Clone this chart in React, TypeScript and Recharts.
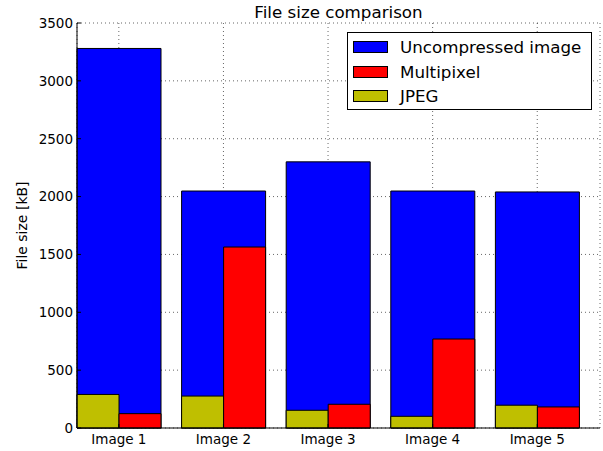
import React from 'react'
import { BarChart, Bar, XAxis, YAxis, CartesianGrid, Legend } from 'recharts'

const categories = ['Image 1', 'Image 2', 'Image 3', 'Image 4', 'Image 5']
const uncompressed = [3280, 2048, 2300, 2048, 2040]
const multipixel = [124, 1564, 205, 769, 182]
const jpeg = [290, 276, 153, 101, 197]
const yTicks = [0, 500, 1000, 1500, 2000, 2500, 3000, 3500]
const legendOrder = ['Uncompressed image', 'Multipixel', 'JPEG']

const data = categories.map((name, i) => ({
  name,
  uncompressed: uncompressed[i],
  multipixel: multipixel[i],
  jpeg: jpeg[i],
}))

const FONT = '"DejaVu Sans", sans-serif'
// bars sit on [i, i + 0.8] of a 0..5 axis, so shift the bands by 0.1 of a band
const BAND_SHIFT = 523 / 5 / 10

const LegendBox = (props: any) => {
  const items = [...(props.payload || [])].sort(
    (a: any, b: any) => legendOrder.indexOf(a.value) - legendOrder.indexOf(b.value)
  )
  return (
    <div
      style={{
        boxSizing: 'border-box',
        width: 245,
        height: 78,
        border: '1px solid #000',
        background: '#fff',
        paddingTop: 2,
        fontFamily: FONT,
        fontSize: 16.7,
        color: '#000',
      }}
    >
      {items.map((it: any) => (
        <div key={it.value} style={{ height: 24.5, display: 'flex', alignItems: 'center' }}>
          <div
            style={{
              boxSizing: 'border-box',
              width: 35,
              height: 12,
              marginLeft: 5,
              marginRight: 12,
              background: it.color,
              border: '1px solid #000',
            }}
          />
          <span>{it.value}</span>
        </div>
      ))}
    </div>
  )
}

export default function App() {
  return (
    <div style={{ position: 'absolute', left: 0, top: 0, width: 603, height: 451, background: '#fff', fontFamily: FONT }}>
      <div
        style={{
          position: 'absolute',
          left: 77,
          top: 4,
          width: 523,
          textAlign: 'center',
          fontSize: 16.7,
          lineHeight: 1,
          color: '#000',
          zIndex: 2,
        }}
      >
        File size comparison
      </div>
      <BarChart
        width={603}
        height={451}
        data={data}
        margin={{ top: 23, right: 3, bottom: 0, left: 0 }}
        barCategoryGap="10%"
        barGap={0}
      >
        <XAxis
          xAxisId="main"
          dataKey="name"
          height={23}
          interval={0}
          padding={{ left: -BAND_SHIFT, right: BAND_SHIFT }}
          tickSize={-4}
          tickMargin={10}
          axisLine={{ stroke: '#000' }}
          tickLine={{ stroke: '#000' }}
          tick={{ fill: '#000', fontSize: 13.5, fontFamily: FONT }}
        />
        <XAxis
          xAxisId="bg"
          orientation="top"
          dataKey="name"
          height={0}
          interval={0}
          padding={{ left: -BAND_SHIFT, right: BAND_SHIFT }}
          tickSize={-4}
          tickMargin={0}
          tickFormatter={() => ''}
          axisLine={{ stroke: '#000' }}
          tickLine={{ stroke: '#000' }}
        />
        <YAxis
          yAxisId="left"
          width={77}
          domain={[0, 3500]}
          ticks={yTicks}
          interval={0}
          tickSize={-4}
          tickMargin={8}
          axisLine={{ stroke: '#000' }}
          tickLine={{ stroke: '#000' }}
          tick={{ fill: '#000', fontSize: 13.5, fontFamily: FONT }}
          label={{
            value: 'File size [kB]',
            angle: -90,
            position: 'insideLeft',
            offset: 22,
            style: { textAnchor: 'middle', fill: '#000', fontSize: 14, fontFamily: FONT },
          }}
        />
        <YAxis
          yAxisId="right"
          orientation="right"
          width={0}
          domain={[0, 3500]}
          ticks={yTicks}
          interval={0}
          tickSize={-4}
          tickMargin={0}
          tickFormatter={() => ''}
          axisLine={{ stroke: '#000' }}
          tickLine={{ stroke: '#000' }}
        />
        <Bar
          xAxisId="bg"
          yAxisId="left"
          dataKey="uncompressed"
          name="Uncompressed image"
          fill="#0000ff"
          stroke="#000"
          strokeWidth={1}
          isAnimationActive={false}
        />
        <Bar
          xAxisId="main"
          yAxisId="left"
          dataKey="jpeg"
          name="JPEG"
          fill="#bfbf00"
          stroke="#000"
          strokeWidth={1}
          isAnimationActive={false}
        />
        <Bar
          xAxisId="main"
          yAxisId="left"
          dataKey="multipixel"
          name="Multipixel"
          fill="#ff0000"
          stroke="#000"
          strokeWidth={1}
          isAnimationActive={false}
        />
        <CartesianGrid
          xAxisId="main"
          yAxisId="left"
          stroke="#000"
          strokeOpacity={0.6}
          strokeDasharray="1 3"
        />
        <Legend
          layout="vertical"
          align="center"
          verticalAlign="middle"
          wrapperStyle={{ position: 'absolute', left: 347, top: 32, width: 245, height: 78 }}
          content={<LegendBox />}
        />
      </BarChart>
    </div>
  )
}
